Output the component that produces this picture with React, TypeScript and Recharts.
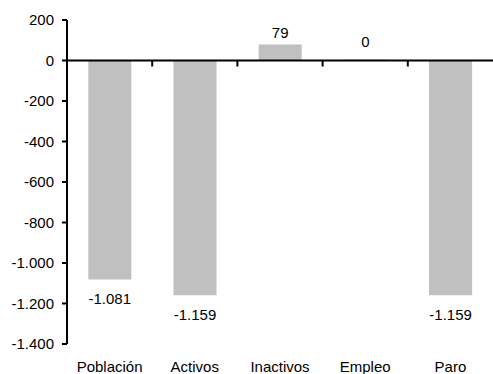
import React from "react";
import { BarChart, Bar, XAxis, YAxis, ReferenceLine, LabelList } from "recharts";

const categories = ["Población", "Activos", "Inactivos", "Empleo", "Paro"];
const values = [-1081, -1159, 79, 0, -1159];
const yTicks = [200, 0, -200, -400, -600, -800, -1000, -1200, -1400];

const data = categories.map((name, i) => ({ name, value: values[i] }));

const FONT = "'Liberation Sans', Arial, sans-serif";

const fmt = (v: number) => {
  const s = Math.abs(v).toString().replace(/\B(?=(\d{3})+(?!\d))/g, ".");
  return (v < 0 ? "-" : "") + s;
};

const ZeroLine = (props: any) => {
  const { x1, y1, x2 } = props;
  const n = categories.length;
  const step = (x2 - x1) / n;
  const ticks = [];
  for (let i = 1; i < n; i++) {
    const x = x1 + step * i;
    ticks.push(<line key={i} x1={x} x2={x} y1={y1} y2={y1 + 6} stroke="#000" strokeWidth={2} />);
  }
  return (
    <g>
      <line x1={x1} x2={x2} y1={y1} y2={y1} stroke="#000" strokeWidth={2} />
      {ticks}
    </g>
  );
};

const BarLabel = (props: any) => {
  const { x, y, width, height, value } = props;
  const cx = x + width / 2;
  const top = Math.min(y, y + height);
  const bottom = Math.max(y, y + height);
  let baseline: number;
  if (value > 0) baseline = top - 7;
  else if (value === 0) baseline = bottom - 14;
  else baseline = bottom + 25;
  return (
    <text x={cx} y={baseline} textAnchor="middle" fontSize={15} fontFamily={FONT} fill="#000">
      {fmt(value)}
    </text>
  );
};

export default function App() {
  return (
    <div style={{ position: "absolute", left: 0, top: 0, width: 493, height: 374, background: "#fff" }}>
      <BarChart width={493} height={374} data={data} margin={{ top: 20, right: 0, left: 0, bottom: 0 }} barCategoryGap="25%">
        <XAxis
          dataKey="name"
          height={30}
          axisLine={false}
          tickLine={false}
          tickSize={0}
          tickMargin={17}
          interval={0}
          tick={{ fill: "#000", fontSize: 15, fontFamily: FONT }}
        />
        <YAxis
          width={67}
          domain={[-1400, 200]}
          ticks={yTicks}
          interval={0}
          tickFormatter={fmt}
          axisLine={{ stroke: "#000", strokeWidth: 2 }}
          tickLine={{ stroke: "#000", strokeWidth: 2 }}
          tickSize={5}
          tickMargin={8}
          tick={{ fill: "#000", fontSize: 15, fontFamily: FONT }}
        />
        <Bar dataKey="value" fill="#C0C0C0" minPointSize={1} isAnimationActive={false}>
          <LabelList dataKey="value" content={BarLabel} />
        </Bar>
        <ReferenceLine y={0} shape={ZeroLine} />
      </BarChart>
    </div>
  );
}
